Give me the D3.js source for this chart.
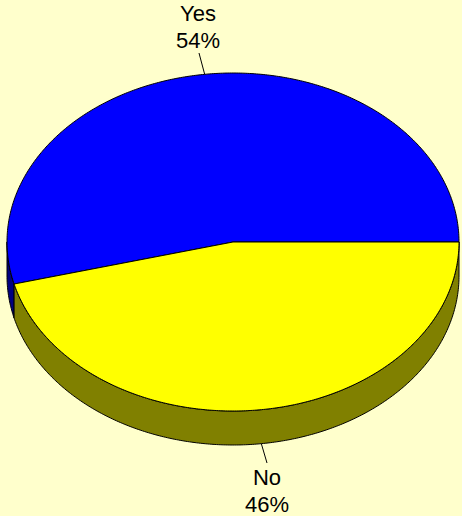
<!DOCTYPE html>
<html><head><meta charset="utf-8">
<script src="https://cdn.jsdelivr.net/npm/d3@7"></script>
<style>html,body{margin:0;padding:0;background:#FFFFCC;}svg{display:block;}</style>
</head><body>
<svg id="chart" width="462" height="516"></svg>
<script>
const categories = ["Yes", "No"];
const values = [54, 46];
const percentLabels = ["54%", "46%"];
const topColors = ["#0000FF", "#FFFF00"];
const sideColors = ["#000080", "#808000"];

const W = 462, H = 516;
const cx = 233, cy = 242, rx = 226, ry = 169, depth = 34;

const svg = d3.select("#chart");
svg.append("rect").attr("width", W).attr("height", H).attr("fill", "#FFFFCC");

const x = d3.scaleLinear().domain([-1, 1]).range([cx - rx, cx + rx]);
const y = d3.scaleLinear().domain([-1, 1]).range([cy + ry, cy - ry]);

// start at 3 o'clock, go counter-clockwise
const pie = d3.pie().sort(null).value(d => d).startAngle(Math.PI / 2).endAngle(Math.PI / 2 - 2 * Math.PI);
const arcs = pie(values);

const pt = (a, dy = 0) => [x(Math.sin(a)), y(Math.cos(a)) + dy];
const sample = (a0, a1) => {
  const n = Math.max(2, Math.ceil(Math.abs(a1 - a0) / 0.01));
  return d3.range(n + 1).map(i => a0 + (a1 - a0) * i / n);
};
const line = d3.line();

// side walls (front half: angles in [-3π/2, -π/2])
arcs.forEach((d, i) => {
  const lo = Math.max(Math.min(d.startAngle, d.endAngle), -1.5 * Math.PI);
  const hi = Math.min(Math.max(d.startAngle, d.endAngle), -0.5 * Math.PI);
  if (hi <= lo) return;
  const angs = sample(lo, hi);
  const pts = angs.map(a => pt(a)).concat(angs.slice().reverse().map(a => pt(a, depth)));
  svg.append("path").attr("d", line(pts) + "Z")
    .attr("fill", sideColors[i]).attr("stroke", "#000").attr("stroke-width", 1).attr("stroke-linejoin", "round");
});

// top faces
arcs.forEach((d, i) => {
  const angs = sample(d.startAngle, d.endAngle);
  const pts = [[cx, cy]].concat(angs.map(a => pt(a)));
  svg.append("path").attr("d", line(pts) + "Z")
    .attr("fill", topColors[i]).attr("stroke", "#000").attr("stroke-width", 1).attr("stroke-linejoin", "round");
});

// labels with leader lines
const labelPos = [
  { lx: 198, ly1: 21, ly2: 48, from: [199, 53] },
  { lx: 267, ly1: 485, ly2: 512, from: [267, 463] }
];
arcs.forEach((d, i) => {
  const mid = (d.startAngle + d.endAngle) / 2;
  const front = Math.cos(mid) < 0;
  const p = pt(mid, front ? depth : 0);
  const L = labelPos[i];
  svg.append("line").attr("x1", L.from[0]).attr("y1", L.from[1]).attr("x2", p[0]).attr("y2", p[1])
    .attr("stroke", "#000").attr("stroke-width", 1);
  const t = svg.append("text").attr("text-anchor", "middle")
    .attr("font-family", "Arial, 'Liberation Sans', sans-serif").attr("font-size", 22).attr("fill", "#000");
  t.append("tspan").attr("x", L.lx).attr("y", L.ly1).text(categories[i]);
  t.append("tspan").attr("x", L.lx).attr("y", L.ly2).text(percentLabels[i]);
});
</script>
</body></html>
